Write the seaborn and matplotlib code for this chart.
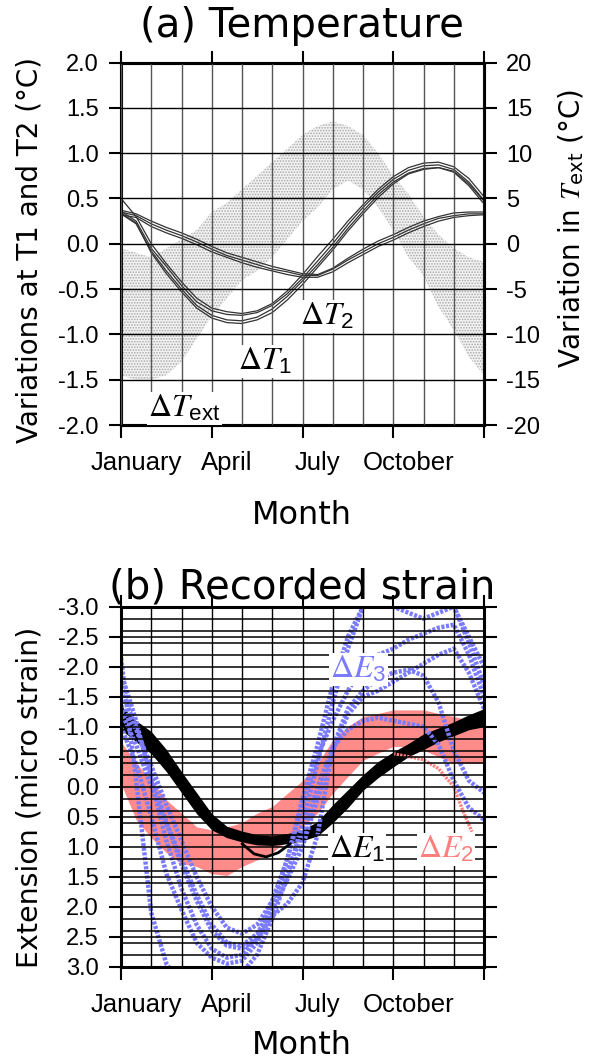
import numpy as np
import pandas as pd
import matplotlib
matplotlib.use("Agg")
import matplotlib.pyplot as plt
import seaborn as sns
from matplotlib.ticker import MultipleLocator, NullFormatter, FormatStrFormatter

# ---- data (months since 1 January) ----
month_pos = [0.0, 0.5, 1.0, 1.5, 2.0, 2.5, 3.0, 3.5, 4.0, 4.5, 5.0, 5.5, 6.0,
             6.5, 7.0, 7.5, 8.0, 8.5, 9.0, 9.5, 10.0, 10.5, 11.0, 11.5, 12.0]
month_names = ["January", "April", "July", "October"]
month_name_pos = [0.5, 3.5, 6.5, 9.5]

# (a) temperature at T1 / T2, several years (deg C)
dT1_yr1 = [0.36, 0.25, -0.05, -0.25, -0.46, -0.64, -0.74, -0.78, -0.79, -0.76, -0.68, -0.55, -0.38,
           -0.19, 0.00, 0.21, 0.40, 0.57, 0.71, 0.81, 0.86, 0.87, 0.82, 0.68, 0.48]
dT1_yr2 = [0.50, 0.30, 0.00, -0.22, -0.42, -0.60, -0.71, -0.75, -0.77, -0.74, -0.66, -0.52, -0.34,
           -0.14, 0.05, 0.25, 0.43, 0.60, 0.74, 0.84, 0.89, 0.90, 0.85, 0.72, 0.52]
dT1_yr3 = [0.33, 0.22, -0.08, -0.30, -0.50, -0.68, -0.79, -0.84, -0.85, -0.81, -0.72, -0.58, -0.41,
           -0.23, -0.04, 0.17, 0.36, 0.54, 0.68, 0.78, 0.83, 0.84, 0.79, 0.64, 0.44]
dT1_yr4 = [0.34, 0.23, -0.10, -0.33, -0.53, -0.71, -0.82, -0.87, -0.88, -0.84, -0.76, -0.62, -0.45,
           -0.26, -0.07, 0.14, 0.33, 0.51, 0.66, 0.77, 0.82, 0.84, 0.80, 0.66, 0.47]
dT2_yr1 = [0.35, 0.31, 0.22, 0.15, 0.09, 0.02, -0.06, -0.13, -0.18, -0.23, -0.28, -0.31, -0.35,
           -0.35, -0.28, -0.18, -0.09, 0.00, 0.07, 0.15, 0.22, 0.28, 0.31, 0.33, 0.33]
dT2_yr2 = [0.37, 0.33, 0.25, 0.18, 0.12, 0.05, -0.03, -0.10, -0.15, -0.20, -0.25, -0.29, -0.33,
           -0.34, -0.27, -0.16, -0.06, 0.03, 0.10, 0.18, 0.25, 0.30, 0.34, 0.35, 0.35]
dT2_yr3 = [0.32, 0.29, 0.19, 0.12, 0.06, -0.01, -0.09, -0.15, -0.21, -0.26, -0.30, -0.34, -0.37,
           -0.37, -0.31, -0.21, -0.12, -0.03, 0.04, 0.12, 0.19, 0.25, 0.29, 0.31, 0.32]

# external temperature cloud (deg C, right axis): lower / upper envelope
ext_lo = [-14.5, -15.0, -15.0, -14.5, -13.0, -10.5, -8.0, -6.0, -4.0, -3.0, -1.5, 0.5, 2.5,
          4.0, 6.0, 7.0, 6.0, 4.0, 1.5, -1.5, -3.5, -7.0, -9.5, -12.5, -14.5]
ext_hi = [-0.5, -1.0, -1.5, -0.5, 0.5, 1.5, 3.5, 4.5, 6.0, 7.5, 9.0, 10.5, 12.0,
          13.0, 13.5, 13.0, 12.0, 10.0, 7.5, 5.5, 3.0, 1.0, -0.5, -1.5, -2.0]

# (b) recorded strain (micro strain)
dE1_lo = [-1.35, -1.10, -0.92, -0.62, -0.25, 0.10, 0.45, 0.66, 0.74, 0.80, 0.82, 0.78, 0.72,
          0.58, 0.30, 0.05, -0.20, -0.42, -0.58, -0.72, -0.88, -0.98, -1.08, -1.20, -1.30]
dE1_hi = [-0.95, -0.75, -0.55, -0.25, 0.10, 0.45, 0.72, 0.85, 0.92, 0.97, 0.98, 0.95, 0.90,
          0.82, 0.60, 0.35, 0.06, -0.15, -0.33, -0.50, -0.62, -0.75, -0.85, -0.95, -1.00]
dE1_dip_x = [4.0, 4.4, 4.8, 5.2, 5.6]
dE1_dip_y = [0.95, 1.12, 1.17, 1.10, 0.95]
dE2_lo = [-0.75, -0.40, -0.10, 0.22, 0.44, 0.67, 0.72, 0.67, 0.60, 0.44, 0.33, 0.11, -0.10,
          -0.39, -0.78, -1.00, -1.17, -1.22, -1.28, -1.28, -1.28, -1.22, -1.17, -1.11, -1.06]
dE2_hi = [-0.05, 0.55, 0.85, 1.10, 1.28, 1.33, 1.45, 1.48, 1.33, 1.22, 1.10, 0.89, 0.67,
          0.44, 0.11, -0.17, -0.44, -0.56, -0.67, -0.67, -0.61, -0.50, -0.39, -0.39, -0.39]
dE2_stray_x = [9.0, 9.5, 10.0, 10.5, 11.0, 11.3, 11.6]
dE2_stray_y = [-0.55, -0.50, -0.45, -0.30, 0.00, 0.40, 0.75]
dE3_yr1 = [-2.15, -0.10, 2.10, 2.95, 3.30, 3.40, 3.40, 3.30, 3.10, 2.80, 2.20, 1.50, 0.60,
           -0.40, -1.40, -2.30, -3.00, -3.30, -3.40, -3.40, -3.30, -3.20, -3.00, -2.40, -1.70]
dE3_yr2 = [-1.00, -0.38, 0.50, 1.45, 2.05, 2.60, 2.85, 2.95, 2.90, 2.60, 2.00, 1.20, 0.20,
           -0.70, -1.70, -2.50, -3.00, -3.10, -3.00, -2.90, -2.80, -2.90, -3.00, -2.50, -2.00]
dE3_yr3 = [-1.90, -1.10, -0.10, 0.90, 1.70, 2.30, 2.70, 2.85, 2.80, 2.50, 1.90, 1.20, 0.30,
           -0.50, -1.10, -1.60, -2.00, -2.20, -2.30, -2.45, -2.55, -2.65, -2.70, -2.20, -1.50]
dE3_yr4 = [-1.25, -0.70, 0.00, 0.60, 1.20, 1.80, 2.30, 2.60, 2.65, 2.45, 2.05, 1.55, 1.00,
           0.20, -0.60, -1.20, -1.50, -1.60, -1.75, -1.90, -2.05, -2.20, -2.30, -1.90, -1.30]
dE3_yr5 = [-1.35, -0.95, -0.35, 0.30, 0.90, 1.50, 2.00, 2.35, 2.45, 2.30, 1.90, 1.40, 0.80,
           0.00, -0.65, -0.95, -1.10, -1.15, -1.10, -1.05, -1.00, -0.70, -0.10, 0.35, 0.55]
dE3_yr6 = [-1.60, -1.00, -0.20, 0.60, 1.30, 1.90, 2.40, 2.65, 2.70, 2.55, 2.15, 1.95, 1.60,
           0.80, -0.65, -1.30, -1.60, -1.80, -1.90, -1.95, -1.85, -1.40, -0.60, -0.10, 0.10]

BLUE = "#7b7bff"
RED = "#ff7f7f"


def long_form(traces):
    rows = []
    for name, vals in traces.items():
        for m, v in zip(month_pos, vals):
            rows.append((name, m, v))
    return pd.DataFrame(rows, columns=["trace", "month", "value"])


sns.set_theme(style="ticks")
plt.rcParams["font.family"] = ["Liberation Sans", "DejaVu Sans"]
plt.rcParams["mathtext.fontset"] = "stix"
plt.rcParams["axes.unicode_minus"] = False
plt.rcParams["hatch.linewidth"] = 0.8
for key in ("text.color", "axes.labelcolor", "xtick.color", "ytick.color", "axes.edgecolor"):
    plt.rcParams[key] = "black"

W, H = 592, 1063
fig = plt.figure(figsize=(W / 100, H / 100), dpi=100)
ax_a = fig.add_axes([121 / W, 1 - 425 / H, 363 / W, 362.5 / H])
ax_b = fig.add_axes([121 / W, 1 - 966.7 / H, 363 / W, 360 / H])


def month_axis(ax, grid_color):
    ax.set_xlim(0, 12)
    ax.xaxis.set_major_locator(MultipleLocator(3))
    ax.xaxis.set_minor_locator(MultipleLocator(1))
    ax.xaxis.set_major_formatter(NullFormatter())
    ax.tick_params(axis="x", which="major", direction="out", length=9, width=1.5,
                   top=True, bottom=True)
    ax.tick_params(axis="x", which="minor", length=0)
    ax.grid(which="both", axis="x", color=grid_color, lw=1.0)
    for name, m in zip(month_names, month_name_pos):
        ax.annotate(name, xy=(m, 0), xycoords=("data", "axes fraction"),
                    xytext=(0, -26), textcoords="offset pixels",
                    ha="center", va="top", fontsize=18.5)
    for s in ax.spines.values():
        s.set_linewidth(2.2)
        s.set_color("black")
    ax.set_axisbelow(False)


# ---------------- (a) Temperature ----------------
ax_t = ax_a.twinx()
ax_a.set_zorder(ax_t.get_zorder() + 1)
ax_a.patch.set_visible(False)

ax_t.fill_between(month_pos, ext_lo, ext_hi, facecolor="#f3f3f3", edgecolor="#a8a8a8",
                  hatch="......", linewidth=0)
ax_t.set_ylim(-20, 20)
ax_t.yaxis.set_major_locator(MultipleLocator(5))
ax_t.yaxis.set_major_formatter(FormatStrFormatter("%d"))
ax_t.tick_params(axis="y", direction="out", length=9, width=1.5, labelsize=17, pad=7)
for s in ax_t.spines.values():
    s.set_linewidth(2.2)
    s.set_color("black")

df_t1 = long_form({"y1": dT1_yr1, "y2": dT1_yr2, "y3": dT1_yr3, "y4": dT1_yr4})
df_t2 = long_form({"y1": dT2_yr1, "y2": dT2_yr2, "y3": dT2_yr3})
for df in (df_t1, df_t2):
    sns.lineplot(data=df, x="month", y="value", units="trace", estimator=None,
                 color="#333333", lw=0.9, ax=ax_a, legend=False)

ax_a.set_ylim(-2, 2)
ax_a.yaxis.set_major_locator(MultipleLocator(0.5))
ax_a.yaxis.set_major_formatter(FormatStrFormatter("%.1f"))
ax_a.tick_params(axis="y", direction="out", length=9, width=1.5, labelsize=17, pad=7)
ax_a.grid(which="major", axis="y", color="black", lw=1.0)
month_axis(ax_a, "#555555")
ax_a.set_xlabel("")
ax_a.set_ylabel("")

box = dict(facecolor="white", edgecolor="none", pad=1)
ax_a.text(2.1, -1.82, r"$\Delta T_{\mathregular{ext}}$", fontsize=23, ha="center", va="center", bbox=box)
ax_a.text(4.75, -1.3, r"$\Delta T_{\mathregular{1}}$", fontsize=23, ha="center", va="center", bbox=box)
ax_a.text(6.8, -0.8, r"$\Delta T_{\mathregular{2}}$", fontsize=23, ha="center", va="center", bbox=box)

# ---------------- (b) Recorded strain ----------------
df_e3 = long_form({"y1": dE3_yr1, "y2": dE3_yr2, "y3": dE3_yr3,
                   "y4": dE3_yr4, "y5": dE3_yr5, "y6": dE3_yr6})
sns.lineplot(data=df_e3, x="month", y="value", units="trace", estimator=None,
             color=BLUE, lw=3.2, ls=(0, (0.7, 0.35)), ax=ax_b, legend=False)
ax_b.fill_between(month_pos, dE2_lo, dE2_hi, color=RED, alpha=0.9, lw=0)
sns.lineplot(x=dE2_stray_x, y=dE2_stray_y, color=RED, lw=2.4, ls=(0, (0.7, 0.35)), ax=ax_b)
ax_b.fill_between(month_pos, dE1_lo, dE1_hi, color="black", lw=0)
sns.lineplot(x=dE1_dip_x, y=dE1_dip_y, color="black", lw=2.0, ax=ax_b)

ax_b.set_ylim(3, -3)
ax_b.yaxis.set_major_locator(MultipleLocator(0.5))
ax_b.yaxis.set_minor_locator(MultipleLocator(0.2))
ax_b.yaxis.set_major_formatter(FormatStrFormatter("%.1f"))
ax_b.tick_params(axis="y", which="major", direction="out", length=9, width=1.5,
                 labelsize=17, pad=7, left=True, right=True)
ax_b.tick_params(axis="y", which="minor", length=0)
ax_b.grid(which="both", axis="y", color="black", lw=1.1)
month_axis(ax_b, "black")
ax_b.set_xlabel("")
ax_b.set_ylabel("")

ax_b.text(7.85, -1.95, r"$\Delta E_{\mathregular{3}}$", fontsize=23, color=BLUE, ha="center", va="center", bbox=box)
ax_b.text(7.8, 1.05, r"$\Delta E_{\mathregular{1}}$", fontsize=23, color="black", ha="center", va="center", bbox=box)
ax_b.text(10.75, 1.05, r"$\Delta E_{\mathregular{2}}$", fontsize=23, color=RED, ha="center", va="center", bbox=box)

# ---------------- titles and axis labels ----------------
lab = dict(family="DejaVu Sans", ha="center")
fig.text(302 / W, 1 - 37 / H, "(a) Temperature", fontsize=29, va="baseline", **lab)
fig.text(302 / W, 1 - 598 / H, "(b) Recorded strain", fontsize=29, va="baseline", **lab)
fig.text(302 / W, 1 - 524 / H, "Month", fontsize=23, va="baseline", **lab)
fig.text(302 / W, 1 - 1054 / H, "Month", fontsize=23, va="baseline", **lab)
fig.text(30 / W, 1 - 250 / H, "Variations at T1 and T2 (°C)", fontsize=20, rotation=90,
         va="center", **lab)
fig.text(572 / W, 1 - 228 / H, r"Variation in $\mathit{T}_{\mathregular{ext}}$ (°C)", fontsize=20,
         rotation=90, va="center", **lab)
fig.text(30 / W, 1 - 797 / H, "Extension (micro strain)", fontsize=20.5, rotation=90,
         va="center", **lab)

fig.savefig("out.png", dpi=100)
